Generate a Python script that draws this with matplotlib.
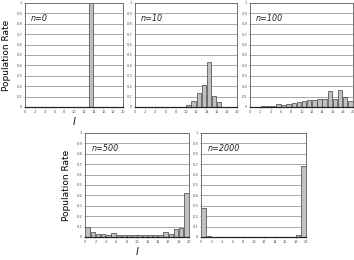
import numpy as np
import matplotlib
matplotlib.use('Agg')
import matplotlib.pyplot as plt

# population rate per l bin (l = 0..19)
bins = np.arange(20)
n0 = [0]*13 + [1.0] + [0]*6
n10 = [0]*9 + [0.003, 0.02, 0.06, 0.135, 0.215, 0.435, 0.105, 0.05, 0, 0, 0]
n100 = [0.002, 0.003, 0.005, 0.012, 0.013, 0.032, 0.022, 0.033, 0.042, 0.047,
        0.056, 0.063, 0.07, 0.074, 0.074, 0.15, 0.074, 0.16, 0.092, 0.054]
n500 = [0.095, 0.048, 0.029, 0.03, 0.02, 0.038, 0.017, 0.015, 0.015, 0.015,
        0.017, 0.018, 0.02, 0.02, 0.022, 0.045, 0.025, 0.08, 0.085, 0.42]
n2000 = [0.283, 0.005, 0.002, 0.002, 0.002, 0.002, 0.002, 0.002, 0.002, 0.002,
         0.002, 0.002, 0.002, 0.002, 0.002, 0.002, 0.002, 0.003, 0.015, 0.678]

labels = ['n=0', 'n=10', 'n=100', 'n=500', 'n=2000']
series = [n0, n10, n100, n500, n2000]
x_ticks = list(range(0, 21, 2))
y_ticks = [i/10 for i in range(11)]
y_tick_labels = ['0'] + ['0.%d' % i for i in range(1, 10)] + ['1']

W, H = 354, 260
# panel boxes in pixels: left, right, top, bottom
boxes = [(25, 123, 3, 107), (135, 237, 3, 107), (250, 353, 3, 107),
         (85, 189, 133, 237), (201, 306, 133, 237)]

fig = plt.figure(figsize=(W/100, H/100), dpi=100)

for k, (vals, lab, (l, r, t, b)) in enumerate(zip(series, labels, boxes)):
    ax = fig.add_axes([l/W, 1 - b/H, (r - l)/W, (b - t)/H])
    ax.set_axisbelow(True)
    for yv in y_ticks[1:-1]:
        ax.axhline(yv, color='#a8a8a8', linewidth=0.7, zorder=0)
    ax.bar(bins + 0.5, vals, width=0.85, color='#c0c0c0', edgecolor='#404040', linewidth=0.5, zorder=2)
    ax.set_xlim(0, 20)
    ax.set_ylim(0, 1)
    ax.set_xticks(x_ticks)
    ax.set_xticklabels([str(v) for v in x_ticks])
    ax.set_yticks(y_ticks)
    ax.set_yticklabels(y_tick_labels)
    ax.tick_params(labelsize=2.6, length=1, width=0.4, pad=1, colors='#555555')
    for s in ax.spines.values():
        s.set_color('#707070')
        s.set_linewidth(0.7)
    ax.spines['bottom'].set_color('#222222')
    ax.spines['bottom'].set_linewidth(0.9)
    ax.text(0.06, 0.85, lab, transform=ax.transAxes, fontsize=5.8, style='italic',
            color='#222222', va='center')
    if k in (0, 3):
        ax.set_ylabel('Population Rate', fontsize=6.5, labelpad=4)
        ax.set_xlabel('l', fontsize=7, style='italic', labelpad=2)

fig.savefig('out.png', dpi=100)
